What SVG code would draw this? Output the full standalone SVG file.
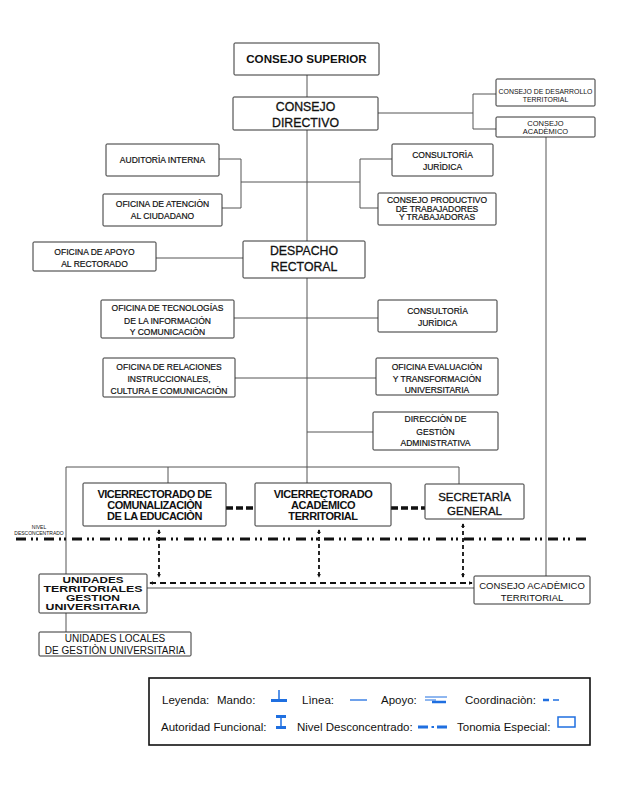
<svg xmlns="http://www.w3.org/2000/svg" width="627" height="800" viewBox="0 0 627 800">
<style>
.box{fill:#fff;stroke:#333;stroke-width:1}
.t{font-family:"Liberation Sans",Arial,sans-serif;fill:#111;text-anchor:middle}
.s{font-size:8.5px;stroke:#111;stroke-width:0.2}
.m{font-size:12.3px;stroke:#111;stroke-width:0.3}
.sg{font-size:11.5px;stroke:#111;stroke-width:0.3}
.ln{fill:none;stroke:#555;stroke-width:1}
.coord{fill:none;stroke:#111;stroke-width:3.5;stroke-dasharray:7 3}
.dash{fill:none;stroke:#111;stroke-width:1.8;stroke-dasharray:6 4}
.vdash{fill:none;stroke:#111;stroke-width:1.8;stroke-dasharray:4 3}
.nivel{fill:none;stroke:#111;stroke-width:3;stroke-dasharray:10 5 2 3 2 6}
.lg{font-family:"Liberation Sans",Arial,sans-serif;font-size:11.5px;fill:#111}
.blue{stroke:#1f6fe0;fill:none}
.ut{font-size:8.6px;font-weight:bold}
</style>
<defs>
<marker id="ah" viewBox="0 0 6 6" refX="5" refY="3" markerWidth="4" markerHeight="4" orient="auto-start-reverse" markerUnits="userSpaceOnUse">
<path d="M0,0 L6,3 L0,6 z" fill="#111"/>
</marker>
</defs>
<rect width="627" height="800" fill="#fff"/>

<g id="connectors">
<path class="ln" d="M307,75 V483"/>
<path class="ln" d="M378,113 H473 M473,94 V129 M473,94 H496 M473,129 H496"/>
<path class="ln" d="M219,159 H241 V208 H222 M241,182 H360 M360,159 V208 M360,159 H392 M360,208 H378"/>
<path class="ln" d="M156,258 H243"/>
<path class="ln" d="M234,318 H378"/>
<path class="ln" d="M235,378 H376"/>
<path class="ln" d="M307,432 H373"/>
<path class="ln" d="M66,574 V467 H459 V484 M168,467 V483"/>
<path class="ln" d="M546,137 V576"/>
<path class="ln" d="M147,588 H474"/>
<path class="ln" d="M66,613 V632"/>
<path class="coord" d="M226,508 H255 M391,508 H425"/>
<path class="nivel" d="M16,539 H588"/>
<path class="vdash" d="M159,530 V577" marker-start="url(#ah)" marker-end="url(#ah)"/>
<path class="vdash" d="M319,530 V577" marker-start="url(#ah)" marker-end="url(#ah)"/>
<path class="vdash" d="M463,524 V577" marker-start="url(#ah)" marker-end="url(#ah)"/>
<path class="dash" d="M150,583 H472" marker-start="url(#ah)" marker-end="url(#ah)"/>
</g>

<g id="nivel-label">
<text class="t" x="39" y="529" font-size="5">NIVEL</text>
<text class="t" x="39" y="535" font-size="5">DESCONCENTRADO</text>
</g>

<g id="consejo-superior">
<rect class="box" x="234" y="43" width="145" height="32" rx="1"/>
<text class="t" x="306.5" y="63" font-size="11.6" font-weight="bold">CONSEJO SUPERIOR</text>
</g>
<g id="consejo-directivo">
<rect class="box" x="233" y="97" width="145" height="33" rx="1"/>
<text class="t m" x="305.5" y="110.5">CONSEJO</text>
<text class="t m" x="305.5" y="126.5">DIRECTIVO</text>
</g>
<g id="consejo-desarrollo">
<rect class="box" x="496" y="79" width="99" height="27" rx="1"/>
<text class="t" x="545.5" y="93.5" font-size="6.9">CONSEJO DE DESARROLLO</text>
<text class="t" x="545.5" y="101.5" font-size="6.9">TERRITORIAL</text>
</g>
<g id="consejo-academico">
<rect class="box" x="496" y="117" width="99" height="20" rx="1"/>
<text class="t" x="545.5" y="125.5" font-size="7.5">CONSEJO</text>
<text class="t" x="545.5" y="134" font-size="7.5">ACADÈMICO</text>
</g>
<g id="auditoria">
<rect class="box" x="106" y="144" width="113" height="32" rx="1"/>
<text class="t s" x="162.5" y="162.5">AUDITORÌA INTERNA</text>
</g>
<g id="atencion">
<rect class="box" x="103" y="194" width="119" height="32" rx="1"/>
<text class="t s" x="162.5" y="207">OFICINA DE ATENCIÒN</text>
<text class="t s" x="162.5" y="219">AL CIUDADANO</text>
</g>
<g id="consultoria-1">
<rect class="box" x="392" y="144" width="101" height="32" rx="1"/>
<text class="t s" x="442.5" y="158">CONSULTORÌA</text>
<text class="t s" x="442.5" y="170">JURÌDICA</text>
</g>
<g id="consejo-productivo">
<rect class="box" x="378" y="193" width="118" height="32" rx="1"/>
<text class="t s" x="437" y="203">CONSEJO PRODUCTIVO</text>
<text class="t s" x="437" y="211.5">DE TRABAJADORES</text>
<text class="t s" x="437" y="220">Y TRABAJADORAS</text>
</g>
<g id="despacho">
<rect class="box" x="243" y="241" width="122" height="37" rx="1"/>
<text class="t m" x="304" y="254.5">DESPACHO</text>
<text class="t m" x="304" y="271">RECTORAL</text>
</g>
<g id="apoyo-rectorado">
<rect class="box" x="33" y="242" width="123" height="29" rx="1"/>
<text class="t s" x="94.5" y="255">OFICINA DE APOYO</text>
<text class="t s" x="94.5" y="267">AL RECTORADO</text>
</g>
<g id="tecnologias">
<rect class="box" x="101" y="300" width="133" height="38" rx="1"/>
<text class="t s" x="167.5" y="311">OFICINA DE TECNOLOGÍAS</text>
<text class="t s" x="167.5" y="323.5">DE LA INFORMACIÓN</text>
<text class="t s" x="167.5" y="335">Y COMUNICACIÒN</text>
</g>
<g id="consultoria-2">
<rect class="box" x="378" y="300" width="119" height="32" rx="1"/>
<text class="t s" x="437.5" y="314">CONSULTORÌA</text>
<text class="t s" x="437.5" y="326">JURÌDICA</text>
</g>
<g id="relaciones">
<rect class="box" x="103" y="358" width="132" height="39" rx="1"/>
<text class="t s" x="169" y="370">OFICINA DE RELACIONES</text>
<text class="t s" x="169" y="382">INSTRUCCIONALES,</text>
<text class="t s" x="169" y="393.5">CULTURA E COMUNICACIÒN</text>
</g>
<g id="evaluacion">
<rect class="box" x="376" y="358" width="122" height="37" rx="1"/>
<text class="t s" x="437" y="370">OFICINA EVALUACIÒN</text>
<text class="t s" x="437" y="382">Y TRANSFORMACIÒN</text>
<text class="t s" x="437" y="393">UNIVERSITARIA</text>
</g>
<g id="direccion">
<rect class="box" x="373" y="412" width="125" height="38" rx="1"/>
<text class="t s" x="435.5" y="422">DIRECCIÒN DE</text>
<text class="t s" x="435.5" y="435">GESTIÒN</text>
<text class="t s" x="435.5" y="446">ADMINISTRATIVA</text>
</g>
<g id="vc-comunalizacion">
<rect class="box" x="83" y="483" width="143" height="43" rx="1"/>
<text class="t" x="154.5" y="498" font-size="11" font-weight="bold" letter-spacing="-0.5">VICERRECTORADO DE</text>
<text class="t" x="154.5" y="509" font-size="11" font-weight="bold" letter-spacing="-0.5">COMUNALIZACIÒN</text>
<text class="t" x="154.5" y="520" font-size="11" font-weight="bold" letter-spacing="-0.5">DE LA EDUCACIÒN</text>
</g>
<g id="vc-academico">
<rect class="box" x="255" y="483" width="136" height="43" rx="1"/>
<text class="t" x="323" y="498" font-size="11" font-weight="bold" letter-spacing="-0.4">VICERRECTORADO</text>
<text class="t" x="323" y="509" font-size="11" font-weight="bold" letter-spacing="-0.4">ACADÈMICO</text>
<text class="t" x="323" y="520" font-size="11" font-weight="bold" letter-spacing="-0.4">TERRITORIAL</text>
</g>
<g id="secretaria">
<rect class="box" x="425" y="484" width="99" height="35" rx="1"/>
<text class="t sg" x="474.5" y="501">SECRETARÌA</text>
<text class="t sg" x="474.5" y="515">GENERAL</text>
</g>
<g id="consejo-academico-territorial">
<rect class="box" x="474" y="576" width="116" height="28" rx="1"/>
<text class="t" x="532" y="589" font-size="9.5">CONSEJO ACADÈMICO</text>
<text class="t" x="532" y="600.5" font-size="9.5">TERRITORIAL</text>
</g>
<g id="unidades-territoriales">
<rect class="box" x="39" y="574" width="108" height="39" rx="1"/>
<text class="t ut" x="93" y="583" textLength="61" lengthAdjust="spacingAndGlyphs">UNIDADES</text>
<text class="t ut" x="93" y="592" textLength="99" lengthAdjust="spacingAndGlyphs">TERRITORIALES</text>
<text class="t ut" x="93" y="601" textLength="54" lengthAdjust="spacingAndGlyphs">GESTION</text>
<text class="t ut" x="93" y="610" textLength="95" lengthAdjust="spacingAndGlyphs">UNIVERSITARIA</text>
</g>
<g id="unidades-locales">
<rect class="box" x="39" y="632" width="152" height="24" rx="1"/>
<text class="t" x="115" y="641.5" font-size="10">UNIDADES LOCALES</text>
<text class="t" x="115" y="653.5" font-size="10">DE GESTIÒN UNIVERSITARIA</text>
</g>

<g id="legend">
<rect x="149" y="678" width="441" height="67" fill="#fff" stroke="#111" stroke-width="1.6"/>
<text class="lg" x="162" y="704">Leyenda:</text>
<text class="lg" x="217" y="704">Mando:</text>
<path class="blue" stroke-width="3" d="M271,700.5 H287"/>
<path class="blue" stroke-width="1.5" d="M279,690 V700"/>
<text class="lg" x="302" y="704">Lìnea:</text>
<path class="blue" stroke-width="1.3" d="M350,700 H367"/>
<text class="lg" x="381" y="704">Apoyo:</text>
<path class="blue" stroke-width="1" d="M425,697 H447 M425,700 H436"/>
<path class="blue" stroke-width="2.5" d="M432,702 H446"/>
<text class="lg" x="465" y="704">Coordinaciòn:</text>
<path class="blue" stroke-width="2.5" d="M543,700 H549"/>
<path class="blue" stroke-width="1.5" d="M553,700 H559"/>
<text class="lg" x="161" y="731">Autoridad Funcional:</text>
<path class="blue" stroke-width="3" d="M276,716.5 H286 M276,727.5 H286"/>
<path class="blue" stroke-width="1.5" d="M281,718 V726"/>
<text class="lg" x="297" y="731">Nivel Desconcentrado:</text>
<path class="blue" stroke-width="3" d="M418,727 H428 M437,727 H447"/>
<path class="blue" stroke-width="2" d="M431.5,727 H434"/>
<text class="lg" x="457" y="731">Tonomia Especial:</text>
<rect class="blue" stroke-width="1.5" x="558" y="717" width="17" height="10"/>
</g>
</svg>
